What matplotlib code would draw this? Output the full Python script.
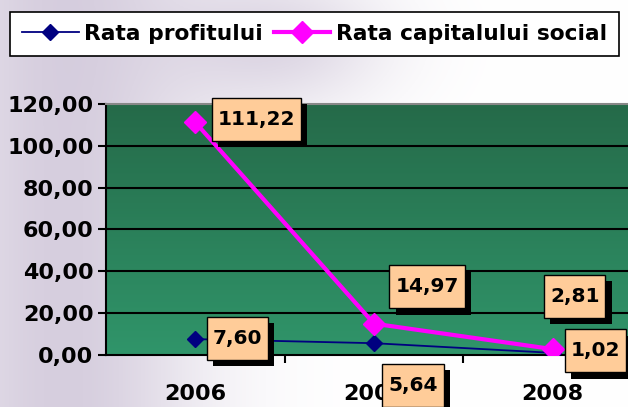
import numpy as np
import matplotlib
matplotlib.use("Agg")
import matplotlib.pyplot as plt
import matplotlib.patheffects as pe
from matplotlib.lines import Line2D
from matplotlib.path import Path
from matplotlib.colors import LinearSegmentedColormap
from matplotlib.ticker import FuncFormatter

years = ["2006", "2007", "2008"]
rata_profit = [7.60, 5.64, 1.02]
rata_capital = [111.22, 14.97, 2.81]

# label offsets (pixels) from each point
profit_offsets = [(42, 1), (39, -42), (43, 2)]
capital_offsets = [(61, 3), (53, 37), (22, 53)]

W, H = 628, 407
fig = plt.figure(figsize=(W / 100, H / 100), dpi=100)

# blurry photo-like background
bg = fig.add_axes([0, 0, 1, 1], zorder=-10)
yy, xx = np.mgrid[0:1:200j, 0:1:300j]
base = np.ones((200, 300, 3))
lav = np.array([0.80, 0.76, 0.84])
wt = np.exp(-((xx - 0.1) ** 2) / 0.05) * 0.8 + np.exp(-((xx - 0.45) ** 2 + (yy - 0.1) ** 2) / 0.03) * 0.6
wt = np.clip(wt, 0, 1)[..., None]
img = base * (1 - wt) + lav * wt
bg.imshow(img, aspect="auto", extent=(0, 1, 0, 1))
bg.axis("off")

ax = fig.add_axes([106 / W, 52 / H, 536 / W, 251 / H])
x = np.arange(len(years))

cmap = LinearSegmentedColormap.from_list("g", ["#30956a", "#256a49"])
ax.imshow(np.linspace(0, 1, 100)[:, None], cmap=cmap, origin="lower", aspect="auto",
          extent=(-0.5, 2.5, 0, 120), zorder=0)
ax.set_xlim(-0.5, 2.5)
ax.set_ylim(0, 120)
for v in range(20, 120, 20):
    ax.axhline(v, color="black", lw=1.5, zorder=1)

ax.plot(x, rata_profit, color="#000080", lw=1.3, marker="D", ms=8, zorder=3,
        label="Rata profitului")
ax.plot(x, rata_capital, color="#ff00ff", lw=3, marker="D", ms=11, zorder=4,
        label="Rata capitalului social")

shadow = [pe.withSimplePatchShadow(offset=(4.5, -4.5), shadow_rgbFace="black", alpha=1)]


def padded_box(x0, y0, width, height, mutation_size):
    px = 0.3 * mutation_size
    py = 0.6 * mutation_size
    pts = [(x0 - px, y0 - py), (x0 + width + px, y0 - py),
           (x0 + width + px, y0 + height + py), (x0 - px, y0 + height + py),
           (x0 - px, y0 - py)]
    return Path(pts, closed=True)


def label(xv, yv, off):
    t = ax.annotate(f"{yv:.2f}".replace(".", ","), (xv, yv), xytext=off,
                    textcoords="offset pixels", ha="center", va="center",
                    fontsize=14.5, fontweight="bold", color="black", zorder=6,
                    annotation_clip=False,
                    bbox=dict(boxstyle=padded_box, fc="#ffcc99", ec="black", lw=1))
    t.get_bbox_patch().set_path_effects(shadow)


for xi, yv, off in zip(x, rata_profit, profit_offsets):
    label(xi, yv, off)
for xi, yv, off in zip(x, rata_capital, capital_offsets):
    label(xi, yv, off)

ax.set_yticks(range(0, 121, 20))
ax.yaxis.set_major_formatter(FuncFormatter(lambda v, p: f"{v:.2f}".replace(".", ",")))
ax.set_xticks(x)
ax.set_xticklabels(years)
ax.set_xticks([0.5, 1.5], minor=True)
ax.tick_params(axis="y", length=6, width=1.5, labelsize=16, pad=3)
ax.tick_params(axis="x", which="major", length=0, labelsize=16, pad=21)
ax.tick_params(axis="x", which="minor", length=6, width=1.5)
for lab in ax.get_xticklabels() + ax.get_yticklabels():
    lab.set_fontweight("bold")
ax.spines["left"].set_linewidth(1.5)
ax.spines["bottom"].set_linewidth(1.5)
ax.spines["top"].set_color("#888888")
ax.spines["top"].set_linewidth(1.5)
ax.spines["right"].set_visible(False)

handles = [Line2D([], [], color="#000080", lw=1.3, marker="D", ms=8),
           Line2D([], [], color="#ff00ff", lw=3, marker="D", ms=11)]
leg = fig.legend(handles, ["Rata profitului", "Rata capitalului social"], ncol=2,
                 loc="upper left", bbox_to_anchor=(10 / W, 1 - 12 / H),
                 prop=dict(size=15.7, weight="bold"), frameon=True, fancybox=False,
                 handlelength=2.6, handletextpad=0.25, columnspacing=0.5,
                 borderpad=0.55, borderaxespad=0)
leg.get_frame().set_edgecolor("black")
leg.get_frame().set_linewidth(1.2)
leg.get_frame().set_facecolor("white")
leg.get_frame().set_alpha(1)

fig.savefig("out.png", dpi=100)
